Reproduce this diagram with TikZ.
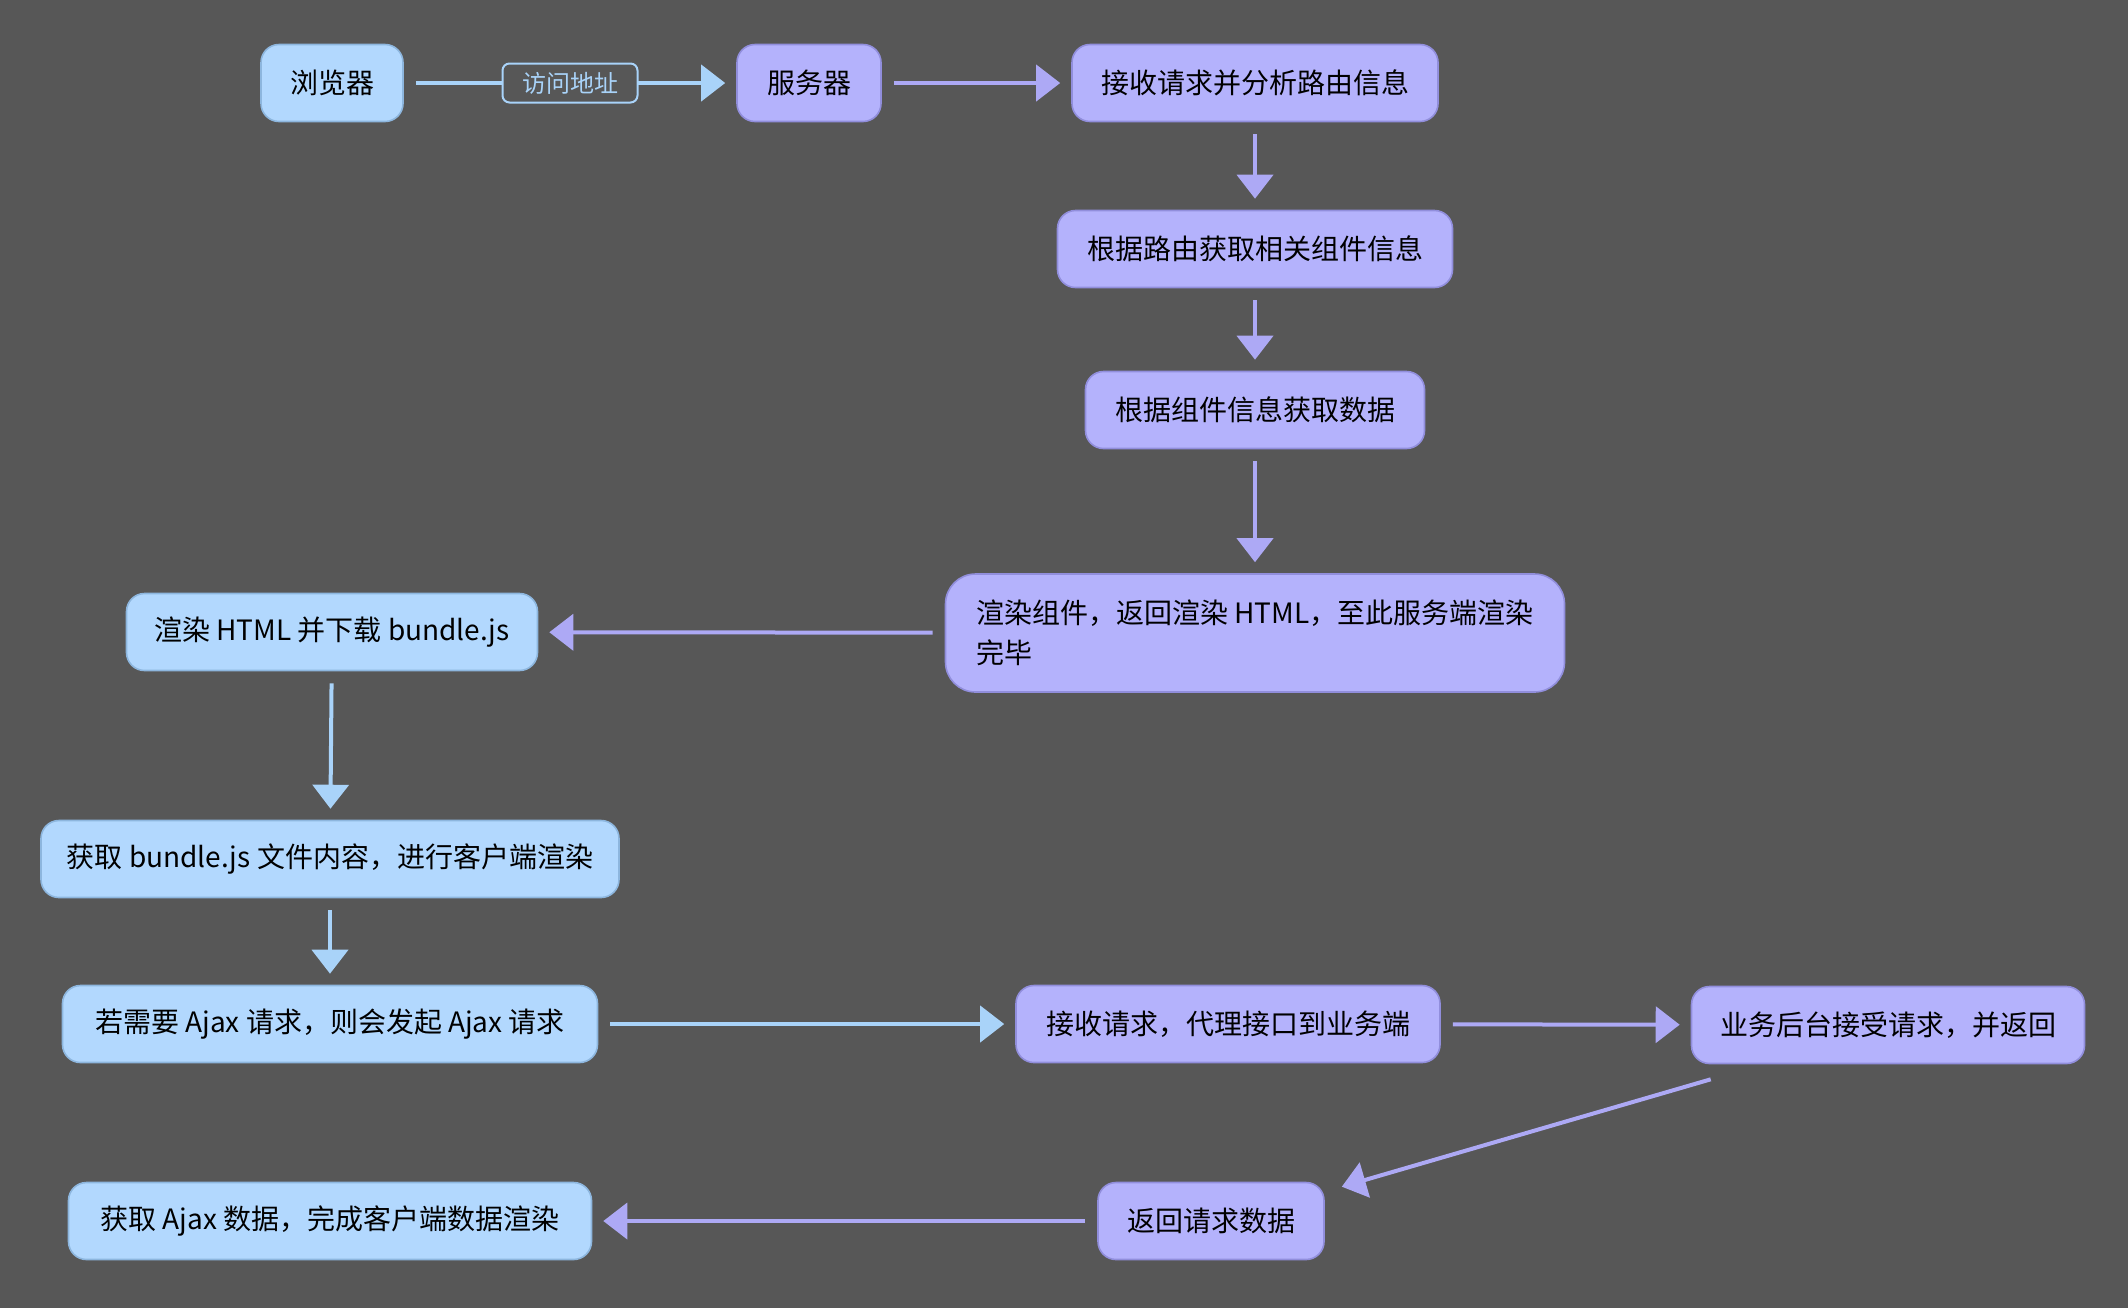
\documentclass[tikz,border=0pt]{standalone}
\usepackage{fontspec}
\setmainfont{Noto Sans CJK SC}
\usepackage{xcolor}
\usepackage{tikz}
\usetikzlibrary{arrows.meta, positioning, calc}

\definecolor{canvas}{HTML}{575757}
\definecolor{clientfill}{HTML}{B2D8FE}
\definecolor{clientedge}{HTML}{8DB6DE}
\definecolor{clientline}{HTML}{A9D3F9}
\definecolor{serverfill}{HTML}{B4B2FC}
\definecolor{serveredge}{HTML}{918EDC}
\definecolor{serverline}{HTML}{ADA9F5}

\begin{document}
\begin{tikzpicture}[
    x=0.5pt, y=-0.5pt,
    font=\fontsize{14}{20}\selectfont,
    client/.style={draw=clientedge, fill=clientfill, rounded corners=9pt, line width=0.8pt, align=center, inner sep=0pt, minimum height=38.5pt, text=black},
    server/.style={draw=serveredge, fill=serverfill, rounded corners=9pt, line width=0.8pt, align=center, inner sep=0pt, minimum height=38.5pt, text=black},
    tag/.style={draw=clientline, fill=canvas, rounded corners=3.5pt, line width=1pt, text=clientline, inner sep=0pt, minimum width=67.5pt, minimum height=19.5pt, font=\fontsize{12}{14}\selectfont},
    toclient/.style={-{Triangle[length=12pt, width=18pt]}, line width=2pt, draw=clientline, shorten <=6pt, shorten >=5.5pt},
    toserver/.style={-{Triangle[length=12pt, width=18pt]}, line width=2pt, draw=serverline, shorten <=6pt, shorten >=5.5pt}
]
    \fill[canvas] (0,0) rectangle (2128,1308);
    \useasboundingbox (0,0) rectangle (2128,1308);

    % Pipeline Nodes
    \node[client, minimum width=71pt] (browser) at (332,83) {浏览器};
    \node[server, minimum width=72pt] (server) at (809,83) {服务器};
    \node[server, minimum width=183pt] (parse) at (1255,83) {接收请求并分析路由信息};
    \node[server, minimum width=197.5pt] (routecomp) at (1255,249) {根据路由获取相关组件信息};
    \node[server, minimum width=169.5pt] (fetchdata) at (1255,410) {根据组件信息获取数据};
    \node[server, minimum width=309.5pt, minimum height=59pt, rounded corners=15pt, align=left] (render) at (1255,633) {渲染组件，返回渲染 HTML，至此服务端渲染\\完毕};

    \node[client, minimum width=205.5pt] (dlbundle) at (332,632) {渲染 HTML 并下载 bundle.js};
    \node[client, minimum width=289pt] (clientrender) at (330,859) {获取 bundle.js 文件内容，进行客户端渲染};
    \node[client, minimum width=267.5pt] (ajaxreq) at (330,1024) {若需要 Ajax 请求，则会发起 Ajax 请求};
    \node[server, minimum width=212pt] (proxy) at (1228,1024) {接收请求，代理接口到业务端};
    \node[server, minimum width=196.5pt] (backend) at (1888,1025) {业务后台接受请求，并返回};
    \node[server, minimum width=113pt] (retdata) at (1211,1221) {返回请求数据};
    \node[client, minimum width=261.5pt] (ajaxdone) at (330,1221) {获取 Ajax 数据，完成客户端数据渲染};

    % Connectors
    \draw[toclient] (browser) -- node[tag] {访问地址} (server);
    \draw[toserver] (server) -- (parse);
    \draw[toserver] (parse) -- (routecomp);
    \draw[toserver] (routecomp) -- (fetchdata);
    \draw[toserver] (fetchdata) -- (render);
    \draw[toserver] (render) -- (dlbundle);

    \draw[toclient] (dlbundle) -- (clientrender);
    \draw[toclient] (clientrender) -- (ajaxreq);
    \draw[toclient] (ajaxreq) -- (proxy);
    \draw[toserver] (proxy) -- (backend);
    \draw[toserver, shorten <=0pt, shorten >=0pt] ([xshift=10pt, yshift=-7.5pt]backend.south west) -- ([xshift=8.5pt, yshift=-2.5pt]retdata.north east);
    \draw[toserver] (retdata) -- (ajaxdone);
\end{tikzpicture}
\end{document}
